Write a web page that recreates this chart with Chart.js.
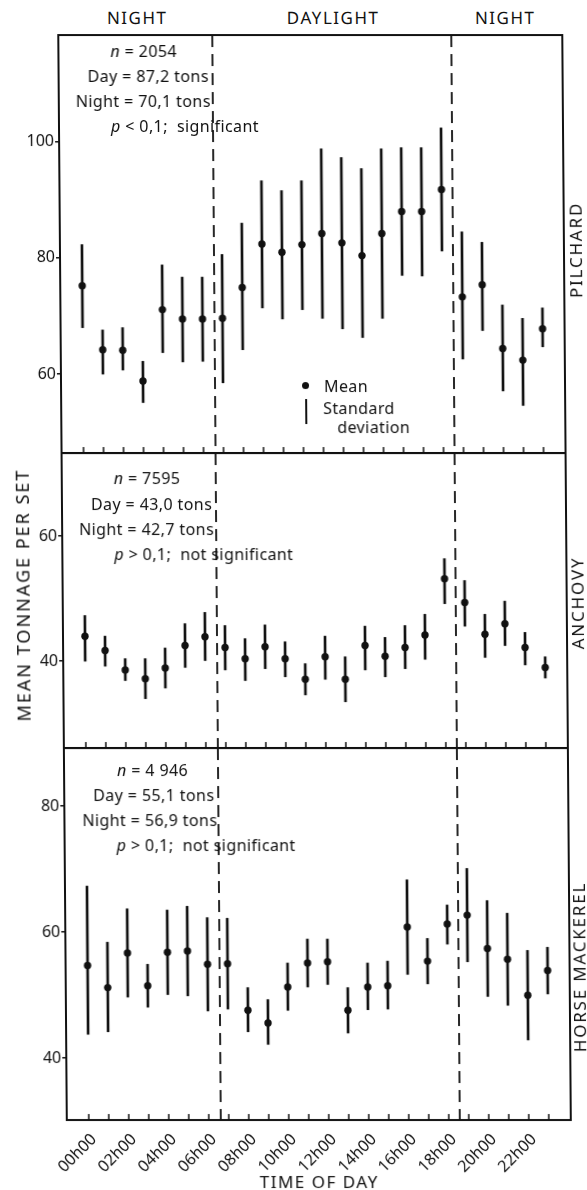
<!DOCTYPE html>
<html lang="en">
<head>
<meta charset="UTF-8">
<title>Mean tonnage per set by time of day</title>
<script src="https://cdn.jsdelivr.net/npm/chart.js@4"></script>
<style>
  body { margin: 0; background: #fff; font-family: 'Noto Sans', sans-serif; color: #111; }
  #page { position: relative; width: 587px; height: 1190px; overflow: hidden;
          transform: skewX(0.45deg); transform-origin: 0 0; }
  canvas { position: absolute; left: 0; }
  .txt { position: absolute; white-space: nowrap; font-size: 16px; line-height: 1; }
  .note { transform: translateY(-50%); letter-spacing: 0.4px; }
  .mid { transform: translate(-50%, -50%); font-size: 17px; letter-spacing: 1.5px; }
  .vert { transform: translate(-50%, -50%) rotate(-90deg); font-size: 17px; letter-spacing: 1.8px; }
  .big { font-size: 18px; letter-spacing: 2px; }
  .dot { position: absolute; width: 7px; height: 7px; border-radius: 50%; background: #111; }
  .bar { position: absolute; width: 2px; background: #111; }
</style>
</head>
<body>
<div id="page">
  <canvas id="pilchard" width="587" height="426" style="top:31px"></canvas>
  <canvas id="anchovy" width="587" height="303" style="top:449px"></canvas>
  <canvas id="mackerel" width="587" height="446" style="top:744px"></canvas>

  <div class="txt mid" style="left:137px;top:17px">NIGHT</div>
  <div class="txt mid" style="left:333px;top:17px">DAYLIGHT</div>
  <div class="txt mid" style="left:505px;top:17px">NIGHT</div>

  <div class="txt note" style="left:110px;top:51px"><i>n</i> = 2054</div>
  <div class="txt note" style="left:87px;top:76px">Day = 87,2 tons</div>
  <div class="txt note" style="left:75px;top:101px">Night = 70,1 tons</div>
  <div class="txt note" style="left:110px;top:126px"><i>p</i> &lt; 0,1;&nbsp; significant</div>

  <div class="txt note" style="left:110px;top:478px"><i>n</i> = 7595</div>
  <div class="txt note" style="left:87px;top:504px">Day = 43,0 tons</div>
  <div class="txt note" style="left:75px;top:529px">Night = 42,7 tons</div>
  <div class="txt note" style="left:110px;top:554px"><i>p</i> &gt; 0,1;&nbsp; not significant</div>

  <div class="txt note" style="left:111px;top:770px"><i>n</i> = 4 946</div>
  <div class="txt note" style="left:87px;top:795px">Day = 55,1 tons</div>
  <div class="txt note" style="left:76px;top:820px">Night = 56,9 tons</div>
  <div class="txt note" style="left:110px;top:845px"><i>p</i> &gt; 0,1;&nbsp; not significant</div>

  <div class="dot" style="left:299px;top:382px"></div>
  <div class="txt note" style="left:321px;top:386px">Mean</div>
  <div class="bar" style="left:302px;top:399px;height:25px"></div>
  <div class="txt note" style="left:320px;top:408px">Standard</div>
  <div class="txt note" style="left:334px;top:427px">deviation</div>

  <div class="txt vert" style="left:573px;top:250px">PILCHARD</div>
  <div class="txt vert" style="left:572px;top:603px">ANCHOVY</div>
  <div class="txt vert" style="left:571px;top:967px">HORSE MACKEREL</div>
  <div class="txt vert big" style="left:18px;top:595px">MEAN TONNAGE PER SET</div>
  <div class="txt mid" style="left:310px;top:1181px">TIME OF DAY</div>
</div>

<script>
  const hours = ['00h00', '01h00', '02h00', '03h00', '04h00', '05h00', '06h00', '07h00',
                 '08h00', '09h00', '10h00', '11h00', '12h00', '13h00', '14h00', '15h00',
                 '16h00', '17h00', '18h00', '19h00', '20h00', '21h00', '22h00', '23h00'];
  // sunrise / sunset, in hour-axis units
  const dividers = [6.6, 18.55];

  const pilchardMean = [75.2, 64.2, 64.1, 58.8, 71.1, 69.5, 69.5, 69.6, 74.9, 82.4, 81.0, 82.3,
                        84.2, 82.6, 80.4, 84.2, 88.0, 88.0, 91.8, 73.3, 75.4, 64.4, 62.4, 67.8];
  const pilchardLow  = [68.0, 60.0, 60.7, 55.1, 63.7, 62.1, 62.2, 58.5, 64.2, 71.4, 69.5, 71.1,
                        69.6, 67.8, 66.3, 69.6, 77.0, 76.9, 81.2, 62.6, 67.5, 57.1, 54.6, 64.7];
  const pilchardHigh = [82.3, 67.6, 68.0, 62.2, 78.8, 76.7, 76.7, 80.6, 86.0, 93.3, 91.6, 93.3,
                        98.8, 97.3, 95.4, 98.8, 99.0, 99.0, 102.4, 84.5, 82.7, 71.9, 69.6, 71.4];

  const anchovyMean = [44.0, 41.7, 38.6, 37.2, 38.9, 42.5, 43.9, 42.2, 40.4, 42.3, 40.4, 37.1,
                       40.7, 37.1, 42.5, 40.8, 42.2, 44.2, 53.2, 49.4, 44.3, 46.0, 42.2, 39.0];
  const anchovyLow  = [40.0, 39.2, 36.9, 34.0, 35.7, 39.0, 40.1, 38.6, 36.9, 38.8, 37.5, 34.6,
                       37.1, 33.5, 38.6, 37.5, 38.8, 40.3, 49.2, 45.6, 40.6, 42.5, 39.4, 37.3];
  const anchovyHigh = [47.3, 44.0, 40.4, 40.4, 42.1, 46.0, 47.8, 45.7, 43.6, 45.8, 43.1, 39.6,
                       44.0, 40.7, 45.6, 43.8, 45.7, 47.5, 56.4, 52.9, 47.5, 49.6, 44.6, 40.7];

  const mackerelMean = [54.7, 51.2, 56.7, 51.5, 56.8, 57.0, 54.9, 55.0, 47.6, 45.6, 51.3, 55.1,
                        55.3, 47.6, 51.3, 51.5, 60.8, 55.4, 61.3, 62.7, 57.4, 55.7, 50.0, 53.9];
  const mackerelLow  = [43.8, 44.2, 49.7, 48.1, 50.1, 49.9, 47.5, 47.8, 44.2, 42.2, 47.6, 51.3,
                        51.7, 44.0, 47.7, 47.8, 53.3, 51.8, 58.1, 55.3, 49.8, 48.4, 42.9, 50.2];
  const mackerelHigh = [67.3, 58.4, 63.7, 54.9, 63.5, 64.1, 62.3, 62.2, 51.2, 49.3, 55.1, 58.9,
                        58.9, 51.2, 55.1, 55.4, 68.3, 59.0, 64.3, 70.1, 65.0, 63.0, 57.1, 57.6];

  const pilchardTicks = [60, 80, 100];
  const anchovyTicks = [40, 60];
  const mackerelTicks = [40, 60, 80];

  const INK = '#111';
  const AXIS_W = 58;      // y axis box width -> plot starts at x=58
  const RIGHT_PAD = 25;   // plot ends at x=562

  // frame, inward hour ticks and the dashed day/night lines
  const panelPlugin = {
    id: 'panel',
    beforeDatasetsDraw(chart) {
      const {ctx, chartArea: a, scales: {x}} = chart;
      ctx.save();
      ctx.strokeStyle = INK;
      ctx.lineWidth = 1.8;
      ctx.setLineDash([12, 7]);
      dividers.forEach(v => {
        const px = x.getPixelForValue(v);
        ctx.beginPath(); ctx.moveTo(px, a.top); ctx.lineTo(px, a.bottom); ctx.stroke();
      });
      ctx.restore();
    },
    afterDraw(chart) {
      const {ctx, chartArea: a, scales: {x}} = chart;
      ctx.save();
      ctx.strokeStyle = INK;
      ctx.lineWidth = 1.5;
      hours.forEach((h, i) => {
        const px = x.getPixelForValue(i);
        ctx.beginPath(); ctx.moveTo(px, a.bottom); ctx.lineTo(px, a.bottom - 6); ctx.stroke();
      });
      ctx.lineWidth = 2;
      ctx.strokeRect(a.left, a.top, a.right - a.left, a.bottom - a.top);
      ctx.restore();
    }
  };

  function makePanel(id, mean, low, high, yMin, yMax, yTicks, showHours) {
    new Chart(document.getElementById(id), {
      type: 'bar',
      data: {
        datasets: [{
          type: 'line',
          data: mean.map((v, i) => ({x: i, y: v})),
          showLine: false,
          pointRadius: 3.7,
          pointHoverRadius: 3.7,
          pointBorderWidth: 0,
          pointBackgroundColor: INK
        }, {
          data: low.map((v, i) => ({x: i, y: [v, high[i]]})),
          backgroundColor: INK,
          borderWidth: 0,
          barThickness: 2
        }]
      },
      options: {
        responsive: false,
        animation: false,
        events: [],
        layout: {padding: {top: 4, bottom: showHours ? 0 : 4, left: 0, right: RIGHT_PAD}},
        plugins: {legend: {display: false}, tooltip: {enabled: false}},
        scales: {
          x: {
            type: 'linear',
            display: showHours,
            min: -1.1,
            max: 24.1,
            offset: false,
            grid: {display: false},
            border: {display: false},
            afterBuildTicks: s => { s.ticks = hours.map((h, i) => ({value: i})); },
            afterFit: s => {
              s.height = showHours ? 70 : 0;
              s.paddingLeft = 0;
              s.paddingRight = 0;
            },
            ticks: {
              autoSkip: false,
              minRotation: 45,
              maxRotation: 45,
              padding: 2,
              labelOffset: 5,
              color: INK,
              font: {family: 'Noto Sans', size: 16},
              callback: v => (v % 2 === 0 ? hours[v] : '')
            }
          },
          y: {
            min: yMin,
            max: yMax,
            grid: {drawOnChartArea: false, drawTicks: true, tickLength: 4, lineWidth: 1.5, color: INK},
            border: {display: false},
            afterBuildTicks: s => { s.ticks = yTicks.map(v => ({value: v})); },
            afterFit: s => { s.width = AXIS_W; s.paddingTop = 0; s.paddingBottom = 0; },
            ticks: {padding: 1, color: INK, font: {family: 'Noto Sans', size: 16}}
          }
        }
      },
      plugins: [panelPlugin]
    });
  }

  makePanel('pilchard', pilchardMean, pilchardLow, pilchardHigh, 46.4, 118.4, pilchardTicks, false);
  makePanel('anchovy', anchovyMean, anchovyLow, anchovyHigh, 26.1, 73.3, anchovyTicks, false);
  makePanel('mackerel', mackerelMean, mackerelLow, mackerelHigh, 30.2, 89.2, mackerelTicks, true);
</script>
</body>
</html>
